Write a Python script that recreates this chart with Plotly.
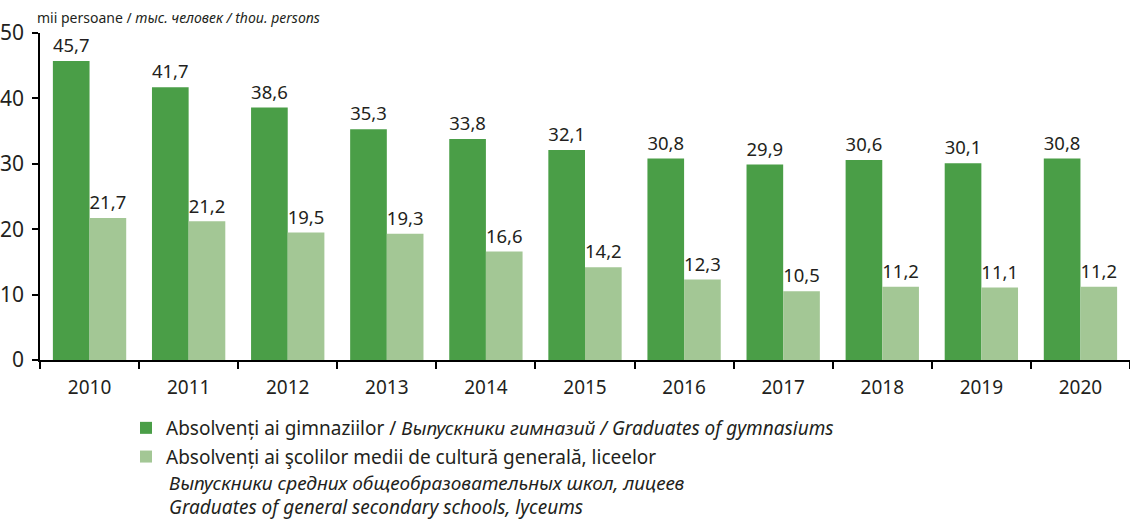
import plotly.graph_objects as go

years = ["2010", "2011", "2012", "2013", "2014", "2015", "2016", "2017", "2018", "2019", "2020"]
gymnasium = [45.7, 41.7, 38.6, 35.3, 33.8, 32.1, 30.8, 29.9, 30.6, 30.1, 30.8]
lyceum = [21.7, 21.2, 19.5, 19.3, 16.6, 14.2, 12.3, 10.5, 11.2, 11.1, 11.2]

name_gym = "Absolvenți ai gimnaziilor / <i>Выпускники гимназий / Graduates of gymnasiums</i>"
name_lyc = "Absolvenți ai şcolilor medii de cultură generală, liceelor"
extra_lines = ["Выпускники средних общеобразовательных школ, лицеев",
               "Graduates of general secondary schools, lyceums"]
unit_text = "mii persoane / <i>тыс. человек / thou. persons</i>"

FONT = "Noto Sans"
DARK = "#4a9e47"
LIGHT = "#a3c795"
TXT = "#231f20"

W, H = 1130, 519

fig = go.Figure()
fig.add_trace(go.Bar(x=years, y=gymnasium, name=name_gym, marker_color=DARK,
                     marker_line_width=0, texttemplate="%{y:.1f}", textposition="outside",
                     textfont=dict(size=19, color=TXT, family=FONT), cliponaxis=False,
                     legendgroup="a"))
fig.add_trace(go.Bar(x=years, y=lyceum, name=name_lyc, marker_color=LIGHT,
                     marker_line_width=0, texttemplate="%{y:.1f}", textposition="outside",
                     textfont=dict(size=19, color=TXT, family=FONT), cliponaxis=False,
                     legendgroup="b"))

fig.update_layout(
    width=W, height=H,
    margin=dict(l=40, r=0, t=33, b=159, autoexpand=False),
    paper_bgcolor="white", plot_bgcolor="white",
    separators=", ",
    barmode="group", bargap=0.26, bargroupgap=0,
    font=dict(family=FONT, size=19, color=TXT),
    showlegend=True,
    legend=dict(x=126 / W, y=1 - 409 / H, xref="container", yref="container",
                xanchor="left", yanchor="top", orientation="v",
                font=dict(size=19, family=FONT, color=TXT), tracegroupgap=1,
                bgcolor="rgba(0,0,0,0)", itemclick=False, valign="top"),
    uniformtext=dict(mode=False),
)
fig.update_xaxes(showline=True, linecolor="black", linewidth=1.5, ticks="outside",
                 tickson="boundaries", ticklen=7, tickcolor="black", tickwidth=1.5,
                 showgrid=False, ticklabelstandoff=9,
                 tickfont=dict(size=19, family=FONT, color=TXT))
fig.update_yaxes(range=[0, 50], tickvals=[0, 10, 20, 30, 40, 50], showline=True,
                 linecolor="black", linewidth=1.5, ticks="outside", ticklen=6,
                 tickcolor="black", tickwidth=1.5, showgrid=False, zeroline=False,
                 ticklabelstandoff=4,
                 tickfont=dict(size=21, family=FONT, color=TXT))

fig.add_annotation(text=unit_text, xref="paper", yref="paper", x=-0.005, y=1.0,
                   yshift=16, xanchor="left", yanchor="middle", showarrow=False,
                   font=dict(size=14, family=FONT, color=TXT))
for i, line in enumerate(extra_lines):
    fig.add_annotation(text="<i>" + line + "</i>", xref="paper", yref="paper",
                       x=(167 - 40) / 1090, y=0, yshift=-123 - 24 * i,
                       xanchor="left", yanchor="middle",
                       showarrow=False, font=dict(size=19, family=FONT, color=TXT))

fig.write_html("out.html", config={"displayModeBar": False},
               post_script="document.body.style.margin='0';")
